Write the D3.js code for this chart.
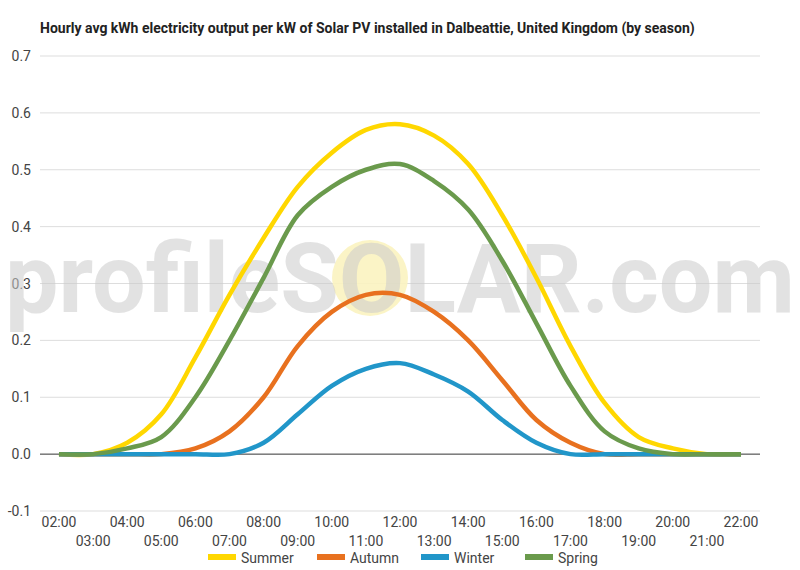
<!DOCTYPE html>
<html><head><meta charset="utf-8">
<script src="https://cdn.jsdelivr.net/npm/d3@7"></script>
<style>body{margin:0;background:#fff;font-family:Roboto,sans-serif}</style>
</head><body><svg id="c" width="800" height="570"></svg>
<script>
const hours = d3.range(2,23);
const hourLabels = hours.map(h => String(h).padStart(2,"0")+":00");
const summer = [0,0,0.02,0.07,0.17,0.28,0.38,0.47,0.53,0.57,0.58,0.56,0.51,0.42,0.31,0.19,0.09,0.03,0.01,0,0];
const autumn = [0,0,0,0,0.01,0.04,0.10,0.19,0.25,0.28,0.28,0.25,0.20,0.13,0.06,0.02,0,0,0,0,0];
const winter = [0,0,0,0,0,0,0.02,0.07,0.12,0.15,0.16,0.14,0.11,0.06,0.02,0,0,0,0,0,0];
const spring = [0,0,0.01,0.03,0.10,0.20,0.31,0.42,0.47,0.50,0.51,0.48,0.43,0.34,0.23,0.12,0.04,0.01,0,0,0];
const seriesNames = ["Summer","Autumn","Winter","Spring"];
const seriesColors = ["#ffd700","#e8711f","#2196c9","#6a9a4c"];
const seriesData = [summer,autumn,winter,spring];
const yTicks = [-0.1,0,0.1,0.2,0.3,0.4,0.5,0.6,0.7];

const svg = d3.select("#c");
const x = d3.scaleLinear().domain([2,22]).range([59,741]);
const y = d3.scaleLinear().domain([-0.1,0.7]).range([511,56]);

svg.append("text").attr("x",40).attr("y",33).attr("font-size",14).attr("font-weight","bold").attr("fill","#222")
  .text("Hourly avg kWh electricity output per kW of Solar PV installed in Dalbeattie, United Kingdom (by season)");

yTicks.forEach(t=>{
  svg.append("line").attr("x1",40).attr("x2",760).attr("y1",y(t)).attr("y2",y(t))
    .attr("stroke", t===0?"#333":"#ddd").attr("stroke-width",1);
  svg.append("text").attr("x",31).attr("y",y(t)+5).attr("text-anchor","end").attr("font-size",14).attr("fill","#444").text(t.toFixed(1));
});
hours.forEach((h,i)=>{
  svg.append("text").attr("x",x(h)).attr("y", i%2===0?527:546).attr("text-anchor","middle").attr("font-size",14).attr("fill","#444").text(hourLabels[i]);
});

svg.append("circle").attr("cx",370).attr("cy",278).attr("r",38).attr("fill","#fbf3c0").attr("opacity",0.9);
svg.append("text").attr("x",400).attr("y",312).attr("text-anchor","middle").attr("font-size",96).attr("font-weight","bold")
  .attr("fill","#ccc").attr("opacity",0.55).attr("textLength",790).attr("lengthAdjust","spacingAndGlyphs").text("profileSOLAR.com");

const line = d3.line().x((d,i)=>x(hours[i])).y(d=>y(d)).curve(d3.curveCatmullRom.alpha(0.5));
seriesData.forEach((s,k)=>{
  svg.append("path").attr("d",line(s)).attr("fill","none").attr("stroke",seriesColors[k]).attr("stroke-width",4.5).attr("stroke-linejoin","round");
});

const lx=[208,317,421,525];
seriesNames.forEach((n,k)=>{
  svg.append("rect").attr("x",lx[k]).attr("y",554).attr("width",28).attr("height",6).attr("fill",seriesColors[k]);
  svg.append("text").attr("x",lx[k]+33).attr("y",563).attr("font-size",14).attr("fill","#444").text(n);
});
</script></body></html>
